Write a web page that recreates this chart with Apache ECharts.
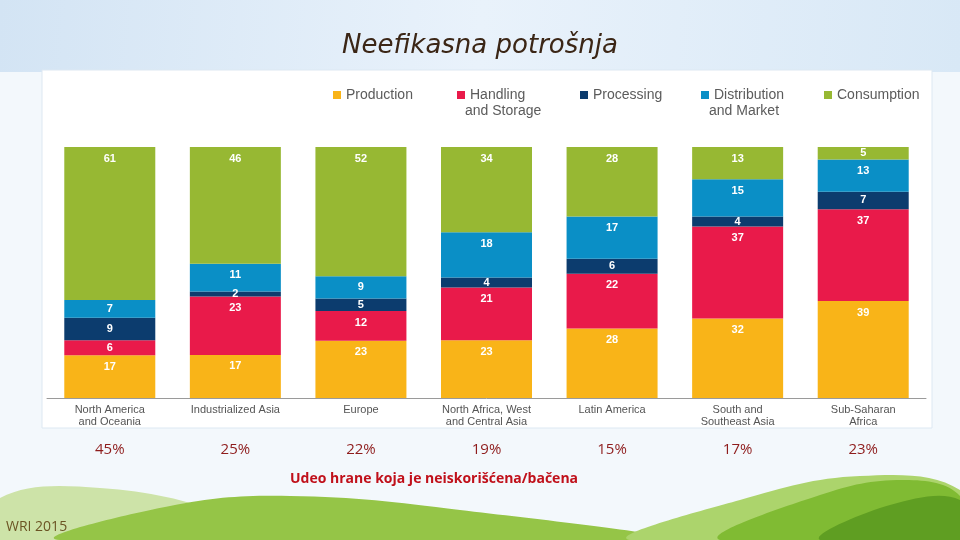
<!DOCTYPE html>
<html>
<head>
<meta charset="utf-8">
<script src="https://cdn.jsdelivr.net/npm/echarts@6/dist/echarts.min.js"></script>
<style>
html,body{margin:0;padding:0;background:#eef4fa;}
#c{width:960px;height:540px;}
</style>
</head>
<body>
<div id="c"></div>
<script>
const categories = ['North America\nand Oceania','Industrialized Asia','Europe','North Africa, West\nand Central Asia','Latin America','South and\nSoutheast Asia','Sub-Saharan\nAfrica'];
const production   = [17, 17, 23, 23, 28, 32, 39];
const handling     = [6, 23, 12, 21, 22, 37, 37];
const processing   = [9, 2, 5, 4, 6, 4, 7];
const distribution = [7, 11, 9, 18, 17, 15, 13];
const consumption  = [61, 46, 52, 34, 28, 13, 5];
const shareWasted  = ['45%','25%','22%','19%','15%','17%','23%'];
const seriesNames  = ['Production','Handling','Processing','Distribution','Consumption'];
const seriesSecondLine = ['', 'and Storage', '', 'and Market', ''];
const colors = ['#f9b418','#e91a4a','#0c3c6e','#0a8fc6','#97b833'];

const all = [production, handling, processing, distribution, consumption];
const totals = categories.map((_, i) => all.reduce((s, a) => s + a[i], 0));

const chart = echarts.init(document.getElementById('c'));

const series = all.map((arr, k) => ({
  name: seriesNames[k],
  type: 'bar',
  stack: 'total',
  barWidth: 91,
  itemStyle: {color: colors[k]},
  label: {
    show: true,
    color: '#fff',
    fontWeight: 'bold',
    fontSize: 11,
    fontFamily: 'Liberation Sans, Arial, sans-serif',
    distance: 6,
    formatter: p => String(arr[p.dataIndex])
  },
  data: arr.map((v, i) => ({
    value: v / totals[i] * 100,
    label: {position: v <= 9 ? 'inside' : 'insideTop'}
  }))
}));

const legendX = [328, 452, 575, 696, 819];
const legends = seriesNames.map((n, k) => ({
  data: [n],
  left: legendX[k],
  top: 83,
  icon: 'rect',
  itemWidth: 8,
  itemHeight: 8,
  itemGap: 0,
  textStyle: {color: '#5b5b5b', fontSize: 14, fontFamily: 'Liberation Sans Narrow, Liberation Sans, Arial, sans-serif'},
  selectedMode: false
}));

const graphics = [
  {type: 'rect', z: -10, shape: {x: 0, y: 0, width: 960, height: 72},
   style: {fill: new echarts.graphic.LinearGradient(0, 0, 1, 1, [
     {offset: 0, color: '#d3e4f4'}, {offset: 0.5, color: '#e9f2fb'}, {offset: 1, color: '#d8e8f6'}])}},
  {type: 'rect', z: -9, shape: {x: 42, y: 70, width: 890, height: 358},
   style: {fill: '#ffffff', stroke: '#dde8f2', lineWidth: 1}},
  {type: 'polygon', z: -8, shape: {smooth: 0.4, points: [[0,540],[0,498],[100,488],[230,515],[260,540]]},
   style: {fill: '#cde3a8'}},
  {type: 'polygon', z: -7, shape: {smooth: 0.4, points: [[60,540],[170,506],[290,496],[460,510],[660,540]]},
   style: {fill: '#95c547'}},
  {type: 'polygon', z: -7, shape: {smooth: 0.4, points: [[630,540],[740,500],[860,476],[960,490],[960,540]]},
   style: {fill: '#acd46c'}},
  {type: 'polygon', z: -6, shape: {smooth: 0.4, points: [[720,540],[820,495],[905,480],[960,496],[960,540]]},
   style: {fill: '#80bb33'}},
  {type: 'polygon', z: -5, shape: {smooth: 0.4, points: [[820,540],[890,505],[960,500],[960,540]]},
   style: {fill: '#5f9e22'}},
  {type: 'text', left: 'center', top: 33,
   style: {text: 'Neefikasna potrošnja', fill: '#3b2616', fontSize: 26, fontFamily: 'DejaVu Sans, sans-serif', fontStyle: 'italic'}},
  {type: 'text', left: 290, top: 472,
   style: {text: 'Udeo hrane koja je neiskorišćena/bačena', fill: '#c0101a', fontSize: 14, fontWeight: 'bold', fontFamily: 'Open Sans, Liberation Sans, sans-serif'}},
  {type: 'text', left: 6, top: 520,
   style: {text: 'WRI 2015', fill: '#6b5424', fontSize: 14, fontFamily: 'Open Sans, Liberation Sans, sans-serif'}}
];
seriesSecondLine.forEach((t, k) => {
  if (t) graphics.push({type: 'text', left: legendX[k] + 13, top: 104,
    style: {text: t, fill: '#5b5b5b', fontSize: 14, fontFamily: 'Liberation Sans Narrow, Liberation Sans, Arial, sans-serif'}});
});

chart.setOption({
  animation: false,
  backgroundColor: '#f3f8fc',
  legend: legends,
  grid: {left: 47, right: 34, top: 147, bottom: 142},
  xAxis: [{
    type: 'category',
    data: categories,
    axisLine: {lineStyle: {color: '#9a9a9a'}},
    axisTick: {show: false},
    axisLabel: {color: '#555', fontSize: 11, lineHeight: 12, margin: 6, interval: 0,
      fontFamily: 'Liberation Sans Narrow, Liberation Sans, Arial, sans-serif'}
  }, {
    type: 'category',
    data: shareWasted,
    position: 'bottom',
    offset: 36,
    axisLine: {show: false},
    axisTick: {show: false},
    axisLabel: {color: '#8e1c1c', fontSize: 15, margin: 8, interval: 0,
      fontFamily: 'Open Sans, Liberation Sans, sans-serif'}
  }],
  yAxis: {type: 'value', min: 0, max: 100, show: false},
  graphic: graphics,
  series: series
});
</script>
</body>
</html>
